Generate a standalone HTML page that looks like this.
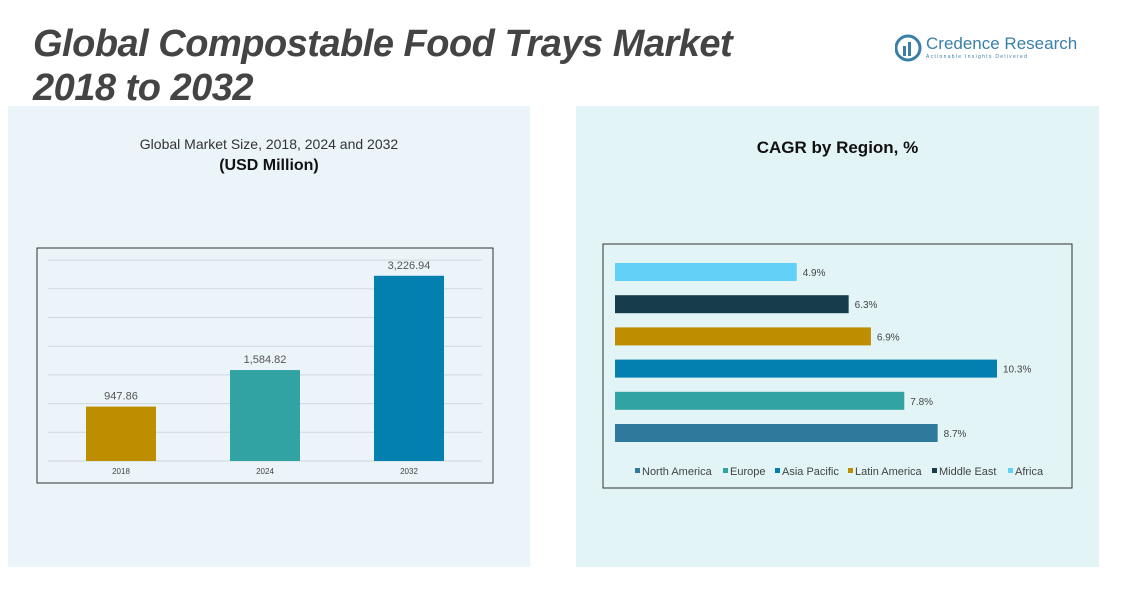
<!DOCTYPE html>
<html><head><meta charset="utf-8"><style>
body{margin:0;width:1135px;height:615px;background:#fff;position:relative;overflow:hidden;font-family:"Liberation Sans",sans-serif}
.abs{position:absolute}
</style></head><body>
<div class="abs" style="left:8px;top:106px;width:522px;height:461px;background:#eaf4f9"></div>
<div class="abs" style="left:576px;top:106px;width:523px;height:461px;background:#e3f4f7"></div>
<div class="abs" style="left:33px;top:22px;font-size:38px;font-weight:bold;font-style:italic;color:#444;line-height:44px;letter-spacing:-0.5px;white-space:nowrap">Global Compostable Food Trays Market<br>2018 to 2032</div>
<div class="abs" style="left:895px;top:34px;width:190px;height:30px;white-space:nowrap">
<svg width="28" height="28" style="position:absolute;left:0;top:0"><circle cx="13" cy="14" r="12" fill="none" stroke="#3a7fa8" stroke-width="3"/><rect x="8" y="12" width="3" height="10" fill="#3a7fa8"/><rect x="13" y="8" width="3" height="14" fill="#3a7fa8"/></svg>
<div style="position:absolute;left:31px;top:0;font-size:17px;color:#3a7fa8">Credence Research</div>
<div style="position:absolute;left:31px;top:20px;font-size:5px;color:#3a7fa8;letter-spacing:1.3px">Actionable Insights Delivered</div></div>
<div class="abs" style="left:8px;width:522px;top:136px;text-align:center;font-size:14px;color:#333">Global Market Size, 2018, 2024 and 2032</div>
<div class="abs" style="left:8px;width:522px;top:157px;text-align:center;font-size:16px;font-weight:bold;color:#111">(USD Million)</div>
<div class="abs" style="left:576px;width:523px;top:138px;text-align:center;font-size:17px;font-weight:bold;color:#111">CAGR by Region, %</div>
<svg class="abs" style="left:0;top:0" width="1135" height="615" id="charts">
<rect x="37" y="248" width="456" height="235" fill="none" stroke="#333" stroke-width="1"/>
<rect x="603" y="244" width="469" height="244" fill="none" stroke="#333" stroke-width="1"/>
</svg>
<script>
const years=["2018","2024","2032"];
const sizes=[947.86,1584.82,3226.94];
const sizeLabels=["947.86","1,584.82","3,226.94"];
const regions=["North America","Europe","Asia Pacific","Latin America","Middle East","Africa"];
const cagr=[8.7,7.8,10.3,6.9,6.3,4.9];
const cagrLabels=["8.7%","7.8%","10.3%","6.9%","6.3%","4.9%"];
const regionColors=["#2f7a9c","#32a3a3","#0480b0","#bf8d00","#173d4c","#62d1f7"];
const yearColors=["#bf8d00","#32a3a3","#0480b0"];
const NS="http://www.w3.org/2000/svg";
const svg=document.getElementById('charts');
function mk(t,a){const e=document.createElementNS(NS,t);for(const k in a)e.setAttribute(k,a[k]);svg.appendChild(e);return e;}
const y0=461,pxPer=28.7/500;
const yS=v=>y0-v*pxPer;
for(let g=0;g<=3500;g+=500){const l=mk('line',{x1:48,x2:482,y1:yS(g),y2:yS(g),stroke:'#cfd8dc','stroke-width':1});

}
const xC=i=>121+i*144;
years.forEach((yr,i)=>{
const r=mk('rect',{x:xC(i)-35,y:yS(sizes[i]),width:70,height:sizes[i]*pxPer,fill:yearColors[i]});


const t=mk('text',{x:xC(i),y:yS(sizes[i])-7,'text-anchor':'middle','font-size':11,fill:'#555'});t.textContent=sizeLabels[i];


const xl=mk('text',{x:xC(i),y:474,'text-anchor':'middle','font-size':8,fill:'#444'});xl.textContent=yr;


});
const x0=615,unit=382/10.3;
const yR=i=>433-i*32.2;
regions.forEach((r,i)=>{
const b=mk('rect',{x:x0,y:yR(i)-9,width:cagr[i]*unit,height:18,fill:regionColors[i]});


const t=mk('text',{x:x0+cagr[i]*unit+6,y:yR(i)+4,'font-size':10,fill:'#444'});t.textContent=cagrLabels[i];


});
const legX=[635,723,775,848,932,1008];
regions.forEach((r,i)=>{
const s=mk('rect',{x:legX[i],y:468,width:5,height:5,fill:regionColors[i]});


const t=mk('text',{x:legX[i]+7,y:475,'font-size':11,fill:'#444'});t.textContent=r;


});
</script>
</body></html>
